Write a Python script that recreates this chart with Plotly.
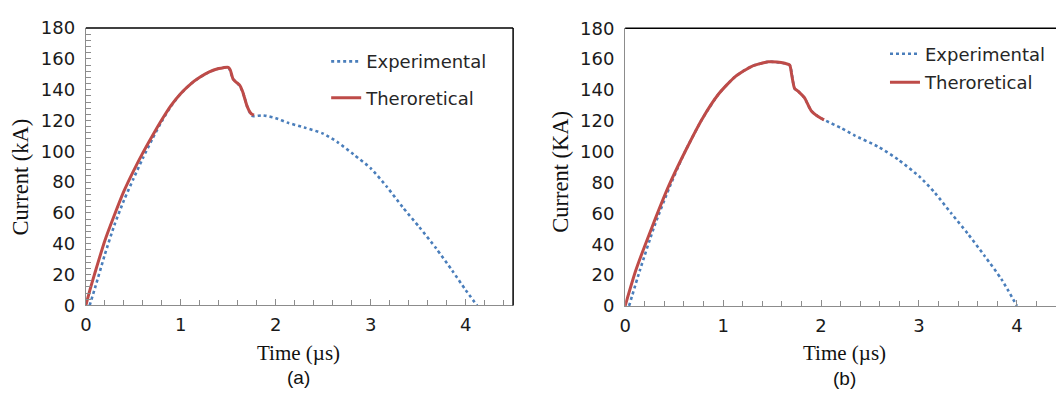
import plotly.graph_objects as go

# ---------------- data: panel (a) ----------------
a_theo_t = [0, 0.05, 0.1, 0.2, 0.3, 0.4, 0.5, 0.6, 0.7, 0.8, 0.9, 1.0, 1.1, 1.2, 1.3, 1.4, 1.45, 1.5,
            1.52, 1.55, 1.58, 1.62, 1.65, 1.7, 1.74, 1.77]
a_theo_i = [0, 11.5, 22, 42, 58.5, 74, 87, 99, 110, 120.5, 130, 137.5, 143.5, 148, 151.5, 153.7, 154.3, 154.5,
            153, 147, 145, 143, 139, 129, 124.5, 123.5]
a_exp_t = [0.04, 0.1, 0.2, 0.3, 0.4, 0.5, 0.6, 0.7, 0.8, 0.9, 1.0, 1.1, 1.2, 1.3, 1.4, 1.5,
           1.55, 1.6, 1.65, 1.7, 1.75, 1.85, 1.9, 2.0, 2.13, 2.3, 2.5, 2.65, 2.82, 3.0, 3.17,
           3.34, 3.51, 3.69, 3.86, 4.0, 4.12]
a_exp_i = [0, 12, 33, 52, 68, 82, 95.5, 108, 119.5, 129.5, 137.5, 143.5, 148, 151.5, 153.7, 154.4,
           147, 144, 139, 129, 123, 123.3, 123, 121.5, 118.5, 115.5, 111.5, 106, 98, 89, 77,
           63.5, 51, 37, 22.5, 10, 0]

# ---------------- data: panel (b) ----------------
b_theo_t = [0, 0.108, 0.277, 0.447, 0.616, 0.785, 0.954, 1.124, 1.293, 1.462, 1.55, 1.631,
            1.68, 1.7, 1.73, 1.77, 1.83, 1.9, 1.97, 2.03]
b_theo_i = [0, 22.9, 51.5, 78.1, 100.6, 121.1, 137.4, 148.7, 155.4, 158.3, 158.2, 157.3,
            156.2, 150, 141, 139, 135, 126.5, 122.8, 120.6]
b_exp_t = [0.04, 0.15, 0.3, 0.45, 0.6, 0.785, 0.954, 1.124, 1.293, 1.462, 1.631, 1.68,
           1.73, 1.77, 1.83, 1.9, 1.97, 2.05, 2.2, 2.34, 2.59, 2.79, 3.01, 3.16, 3.33,
           3.5, 3.67, 3.84, 4.0]
b_exp_i = [0, 23, 52, 76.5, 98.5, 121, 137.4, 148.7, 155.4, 158.3, 157.3, 156, 141, 139,
           135, 126.5, 122.8, 120, 115.5, 110.6, 103, 94.8, 83.5, 73.5, 60, 46.7, 32.4, 17.5, 0]

BLUE = "#4a7ebb"
RED = "#be4b48"
AXIS = "#8c8c8c"
TICKFONT = dict(family="DejaVu Sans, Verdana, sans-serif", size=18, color="#1a1a1a")
LEGFONT = dict(family="DejaVu Sans, Verdana, sans-serif", size=18, color="#262626")
SERIF = "Liberation Serif, Times New Roman, serif"

fig = go.Figure()
fig.add_trace(go.Scatter(x=a_exp_t, y=a_exp_i, mode="lines", name="Experimental",
                         line=dict(color=BLUE, width=2.6, dash="dot", shape="spline", smoothing=0.6),
                         xaxis="x", yaxis="y", legend="legend", legendgroup="ae"))
fig.add_trace(go.Scatter(x=a_theo_t, y=a_theo_i, mode="lines", name="Theroretical",
                         line=dict(color=RED, width=3, shape="spline", smoothing=0.6),
                         xaxis="x", yaxis="y", legend="legend", legendgroup="at"))
fig.add_trace(go.Scatter(x=b_exp_t, y=b_exp_i, mode="lines", name="Experimental",
                         line=dict(color=BLUE, width=2.6, dash="dot", shape="spline", smoothing=0.6),
                         xaxis="x2", yaxis="y2", legend="legend2", legendgroup="be"))
fig.add_trace(go.Scatter(x=b_theo_t, y=b_theo_i, mode="lines", name="Theroretical",
                         line=dict(color=RED, width=3, shape="spline", smoothing=0.6),
                         xaxis="x2", yaxis="y2", legend="legend2", legendgroup="bt"))

W, H = 1056, 394
ya_dom = [(H - 311) / H, (H - 18) / H]
yb_dom = [(H - 311.5) / H, (H - 18.3) / H]

common_x = dict(tickmode="linear", tick0=0, dtick=1, showline=True, linecolor=AXIS, linewidth=1.3,
                ticks="inside", ticklen=6, tickcolor=AXIS, tickwidth=1.2,
                minor=dict(dtick=0.2, ticks="inside", ticklen=5, tickcolor=AXIS, tickwidth=1),
                showgrid=False, zeroline=False, tickfont=TICKFONT, ticklabelstandoff=3)
common_y = dict(tickmode="linear", tick0=0, dtick=20, range=[0, 180], showline=True,
                linecolor=AXIS, linewidth=1.3,
                showgrid=False, zeroline=False, tickfont=TICKFONT, ticklabelstandoff=6)

fig.update_layout(
    width=W, height=H, margin=dict(l=0, r=0, t=0, b=0),
    paper_bgcolor="white", plot_bgcolor="white",
    xaxis=dict(domain=[80.3 / W, 510 / W], range=[0, 4.5], anchor="y", **common_x),
    yaxis=dict(domain=ya_dom, anchor="x", ticks="inside", ticklen=5, tickcolor=AXIS,
               minor=dict(dtick=4, ticks="inside", ticklen=5, tickcolor=AXIS),
               **common_y),
    xaxis2=dict(domain=[622.7 / W, 1.0], range=[0, (W - 622.7) / 98.5], anchor="y2", **common_x),
    yaxis2=dict(domain=yb_dom, anchor="x2", ticks="", **common_y),
    showlegend=True,
    legend=dict(x=322 / W, y=(H - 34) / H, xanchor="left", yanchor="top",
                bgcolor="rgba(0,0,0,0)", traceorder="grouped", tracegroupgap=10,
                font=LEGFONT),
    legend2=dict(x=884 / W, y=(H - 26) / H, xanchor="left", yanchor="top",
                 bgcolor="rgba(0,0,0,0)", traceorder="grouped", tracegroupgap=2,
                 font=LEGFONT),
)

# black frame lines (top/right) as in the original
fig.add_shape(type="line", xref="x domain", yref="y domain", x0=0, x1=1, y0=1, y1=1,
              line=dict(color="black", width=1.5))
fig.add_shape(type="line", xref="x domain", yref="y domain", x0=1, x1=1, y0=0, y1=1,
              line=dict(color="black", width=1.5))
fig.add_shape(type="line", xref="x2 domain", yref="y2 domain", x0=0, x1=1, y0=1, y1=1,
              line=dict(color="black", width=1.5))

# axis titles and captions
YFONT = dict(family=SERIF, size=22.5, color="#111")
XFONT = dict(family=SERIF, size=21, color="#111")
CFONT = dict(family="Liberation Sans, Arial, sans-serif", size=19, color="#111")
ann = [
    dict(text="Current (kA)", x=15 / W, y=(H - 175) / H, textangle=-90, font=YFONT),
    dict(text="Time (µs)", x=294 / W, y=(H - 361) / H, font=XFONT),
    dict(text="(a)", x=294 / W, y=(H - 387) / H, font=CFONT),
    dict(text="Current (KA)", x=558 / W, y=(H - 170) / H, textangle=-90, font=YFONT),
    dict(text="Time (µs)", x=843 / W, y=(H - 361) / H, font=XFONT),
    dict(text="(b)", x=843 / W, y=(H - 388) / H, font=CFONT),
]
for a in ann:
    fig.add_annotation(xref="paper", yref="paper", showarrow=False, xanchor="center",
                       yanchor="middle", **a)

fig.write_html("out.html")
